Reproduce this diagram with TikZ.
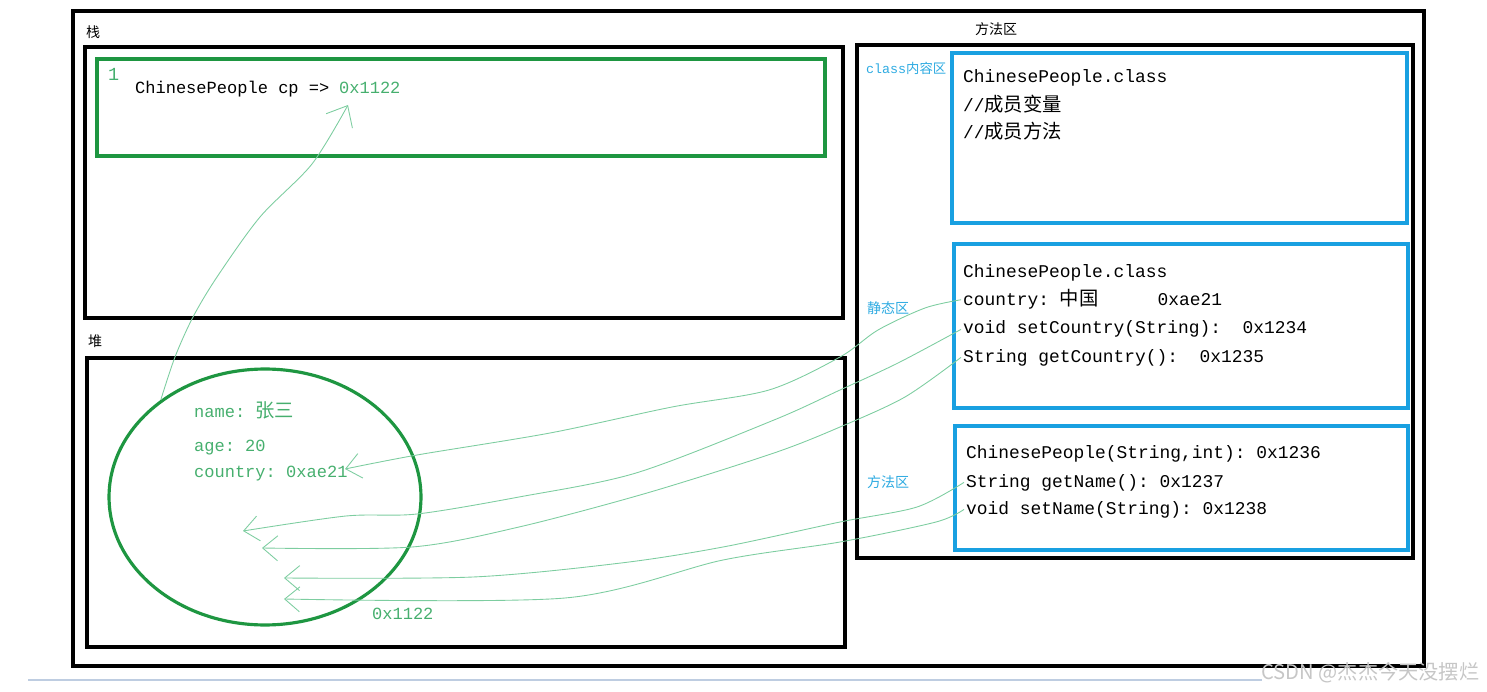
\documentclass[tikz,border=0pt]{standalone}
\usepackage{fontspec}
\setmonofont{Liberation Mono}
\newfontfamily\cjk{Noto Sans CJK SC}
\usetikzlibrary{arrows.meta,shapes.geometric}
\definecolor{boxGreen}{RGB}{30,150,65}
\definecolor{textGreen}{RGB}{70,175,110}
\definecolor{arrowGreen}{RGB}{125,205,160}
\definecolor{boxBlue}{RGB}{25,160,225}
\definecolor{labelBlue}{RGB}{45,170,225}
\definecolor{lineGray}{RGB}{190,205,225}
\newcommand{\zh}[1]{{\cjk\fontsize{11}{12}\selectfont #1}}

\tikzset{
  region/.style={draw=black,line width=1.8pt},
  bluebox/.style={draw=boxBlue,line width=2pt},
  code/.style={anchor=base west,inner sep=1pt,font=\ttfamily\fontsize{10.2}{12}\selectfont},
  stackcode/.style={code,font=\ttfamily\fontsize{9.7}{12}\selectfont},
  heapcode/.style={stackcode,text=textGreen},
  area/.style={anchor=base west,inner sep=1pt,font=\cjk\fontsize{8}{9}\selectfont},
  arealabel/.style={area,text=labelBlue},
  ref/.style={arrowGreen,line width=0.5pt,-{Straight Barb[length=3mm,width=5mm]}}
}

\begin{document}
\begin{tikzpicture}[x=0.02cm,y=-0.02cm]
\useasboundingbox (0,0) rectangle (1487,692);
\draw[region] (73,11) rectangle (1424,666);

% stack
\node[area] (stacklbl) at (84,38) {栈};
\draw[region] (85,47) rectangle (843,318);
\draw[boxGreen,line width=1.8pt] (97,59) rectangle (825,156);
\node[heapcode,font=\ttfamily\fontsize{10.5}{12}\selectfont] (frameno) at (106,81) {1};
\node[stackcode] (cpvar) at (133,94) {ChinesePeople cp =>};
\node[heapcode] (cpaddr) at (337,94) {0x1122};

% heap
\node[area] (heaplbl) at (86,347) {堆};
\draw[region] (87,358) rectangle (845,647);
\node[ellipse,draw=boxGreen,line width=1.8pt,minimum width=6.24cm,minimum height=5.12cm,inner sep=0pt] (heapobj) at (265,497) {};
\node[heapcode] (objname) at (192,418) {name: \zh{张三}};
\node[heapcode] (objage) at (192,451) {age: 20};
\node[heapcode] (objcountry) at (192,477) {country: 0xae21};
\node[heapcode] (objaddr) at (370,619) {0x1122};

% method area
\node[area] (methodlbl) at (973,35) {方法区};
\draw[region] (857,45) rectangle (1413,558);
\node[arealabel,font=\cjk\fontsize{7.6}{9}\selectfont] (classlbl) at (864,74) {{\ttfamily class}内容区};
\draw[bluebox] (952,53) rectangle (1407,223);
\node[code] (classname) at (961,83) {ChinesePeople.class};
\node[code] (fieldcmt) at (961,112) {//\zh{成员变量}};
\node[code] (methodcmt) at (961,139) {//\zh{成员方法}};

\node[arealabel] (staticlbl) at (865,314) {静态区};
\draw[bluebox] (954,244) rectangle (1408,408);
\node[code] (sclass) at (961,278) {ChinesePeople.class};
\node[code] (scountry) at (961,306) {country: \zh{中国}\hspace{1.18cm}0xae21};
\node[code] (ssetc) at (961,334) {void setCountry(String):~~0x1234};
\node[code] (sgetc) at (961,362) {String getCountry():~~0x1235};

\node[arealabel] (funclbl) at (865,487) {方法区};
\draw[bluebox] (955,426) rectangle (1408,550);
\node[code] (ctor) at (964,458) {ChinesePeople(String,int): 0x1236};
\node[code] (sgetn) at (964,487) {String getName(): 0x1237};
\node[code] (ssetn) at (964,514) {void setName(String): 0x1238};

% references
\coordinate (toCp) at (348,105);
\coordinate (toCountry) at (345,469);
\coordinate (toSetCountry) at (243,531);
\coordinate (toGetCountry) at (262,548);
\coordinate (toGetName) at (284,578);
\coordinate (toSetName) at (284,599);
\draw[ref,-{Straight Barb[length=3.5mm,width=6mm]}] plot[smooth] coordinates {(heapobj.137) (175,357) (193,317) (217,277) (260,217) (312,164) (toCp)};
\draw[ref] plot[smooth] coordinates {(scountry.west) (925,308) (878,330) (840,357) (769,390) (672,407) (550,433) (417,455) (toCountry)};
\draw[ref] plot[smooth] coordinates {(ssetc.west) (898,363) (840,390) (774,420) (636,473) (519,497) (417,514) (346,516) (toSetCountry)};
\draw[ref] plot[smooth] coordinates {(sgetc.west) (905,397) (840,427) (774,453) (647,493) (519,527) (412,547) (toGetCountry)};
\draw[ref] plot[smooth] coordinates {(sgetn.west) (917,507) (840,522) (723,547) (621,563) (473,577) (toGetName)};
\draw[ref] plot[smooth] coordinates {(ssetn.west) (936,522) (840,542) (723,560) (565,598) (toSetName)};

\draw[lineGray,line width=1.2pt] (28,680) -- (1262,680);
\node[anchor=base west,inner sep=0pt,text=gray!45,font=\cjk\fontsize{11.5}{12}\selectfont] (wmark) at (1261,679) {CSDN @杰杰今天没摆烂};
\end{tikzpicture}
\end{document}
